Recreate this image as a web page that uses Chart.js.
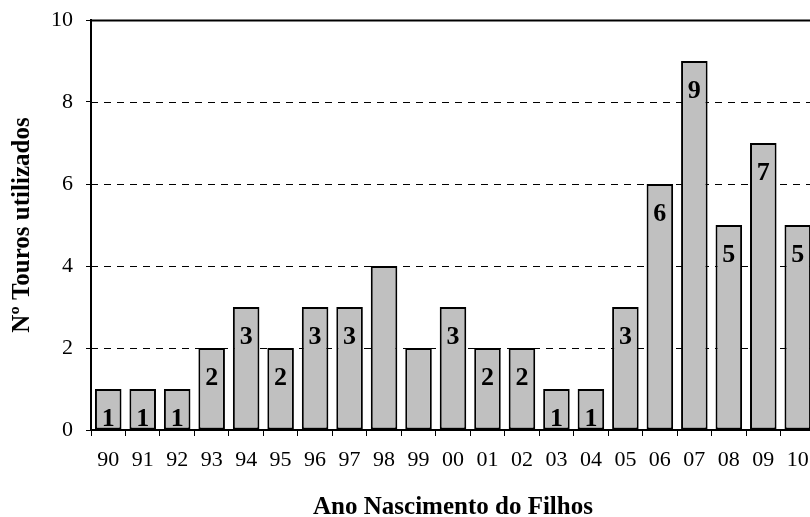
<!DOCTYPE html>
<html>
<head>
<meta charset="utf-8">
<script src="https://cdn.jsdelivr.net/npm/chart.js@4/dist/chart.umd.min.js"></script>
<style>
  html, body { margin: 0; padding: 0; background: #fff; overflow: hidden; }
  #wrap { width: 815px; height: 517px; }
</style>
</head>
<body>
<div id="wrap"><canvas id="myChart"></canvas></div>
<script>
const anos = ['90', '91', '92', '93', '94', '95', '96', '97', '98', '99', '00',
  '01', '02', '03', '04', '05', '06', '07', '08', '09', '10'];
const touros = [1, 1, 1, 2, 3, 2, 3, 3, 4, 2, 3, 2, 2, 1, 1, 3, 6, 9, 5, 7, 5];
// rótulos que aparecem dentro das barras (98 e 99 não têm)
const rotulos = ['1', '1', '1', '2', '3', '2', '3', '3', null, null, '3',
  '2', '2', '1', '1', '3', '6', '9', '5', '7', '5'];
const yTicks = [0, 2, 4, 6, 8, 10];

const fonte = 'Liberation Serif, Times New Roman, serif';

const gridPlugin = {
  id: 'gridPlugin',
  beforeDatasetsDraw(chart) {
    const ctx = chart.ctx;
    const area = chart.chartArea;
    const y = chart.scales.y;
    ctx.save();
    ctx.strokeStyle = '#000';
    yTicks.forEach(v => {
      if (v === 0) return;
      const py = Math.round(y.getPixelForValue(v)) + 0.5;
      ctx.beginPath();
      if (v === 10) {
        ctx.lineWidth = 2;
        ctx.setLineDash([]);
      } else {
        ctx.lineWidth = 1;
        ctx.setLineDash([7, 6]);
      }
      ctx.moveTo(area.left, py);
      ctx.lineTo(area.right + 5, py);
      ctx.stroke();
    });
    ctx.restore();
  }
};

const labelPlugin = {
  id: 'labelPlugin',
  afterDatasetsDraw(chart) {
    const ctx = chart.ctx;
    const meta = chart.getDatasetMeta(0);
    ctx.save();
    ctx.fillStyle = '#000';
    ctx.font = 'bold 26px ' + fonte;
    ctx.textAlign = 'center';
    ctx.textBaseline = 'middle';
    meta.data.forEach((bar, i) => {
      if (!rotulos[i]) return;
      ctx.fillText(rotulos[i], bar.x, bar.y + 30);
    });
    ctx.restore();
  }
};

const ctx = document.getElementById('myChart').getContext('2d');
const myChart = new Chart(ctx, {
  type: 'bar',
  data: {
    labels: anos,
    datasets: [{
      data: touros,
      backgroundColor: '#c0c0c0',
      borderColor: '#000',
      borderWidth: 2,
      borderSkipped: false,
      barPercentage: 0.77,
      categoryPercentage: 1
    }]
  },
  options: {
    responsive: true,
    maintainAspectRatio: false,
    animation: false,
    layout: { padding: { top: 20, left: 0, right: 0, bottom: 0 } },
    plugins: {
      legend: { display: false },
      tooltip: { enabled: false }
    },
    scales: {
      x: {
        grid: {
          offset: true,
          drawOnChartArea: false,
          drawTicks: true,
          tickLength: 6,
          tickColor: '#000',
          tickWidth: 1
        },
        border: { color: '#000', width: 2 },
        ticks: {
          color: '#000',
          font: { family: fonte, size: 22 },
          padding: 11,
          maxRotation: 0,
          autoSkip: false
        },
        title: {
          display: true,
          text: 'Ano Nascimento do Filhos',
          color: '#000',
          font: { family: fonte, size: 25, weight: 'bold', lineHeight: 1 },
          padding: { top: 0, bottom: -3 }
        },
        afterFit(scale) {
          scale.height = 87;
          scale.paddingLeft = 0;
          scale.paddingRight = 0;
        }
      },
      y: {
        min: 0,
        max: 10,
        afterBuildTicks(scale) {
          scale.ticks = yTicks.map(v => ({ value: v }));
        },
        grid: {
          drawOnChartArea: false,
          drawTicks: true,
          tickLength: 5,
          tickColor: '#000',
          tickWidth: 1
        },
        border: { color: '#000', width: 2 },
        ticks: {
          color: '#000',
          font: { family: fonte, size: 22 },
          padding: 13
        },
        title: {
          display: true,
          text: 'Nº Touros utilizados',
          color: '#000',
          font: { family: fonte, size: 25, weight: 'bold', lineHeight: 1 },
          padding: { top: 10, bottom: 0 }
        },
        afterFit(scale) {
          scale.width = 91;
          scale.paddingTop = 0;
          scale.paddingBottom = 0;
        }
      }
    }
  },
  plugins: [gridPlugin, labelPlugin]
});
</script>
</body>
</html>
